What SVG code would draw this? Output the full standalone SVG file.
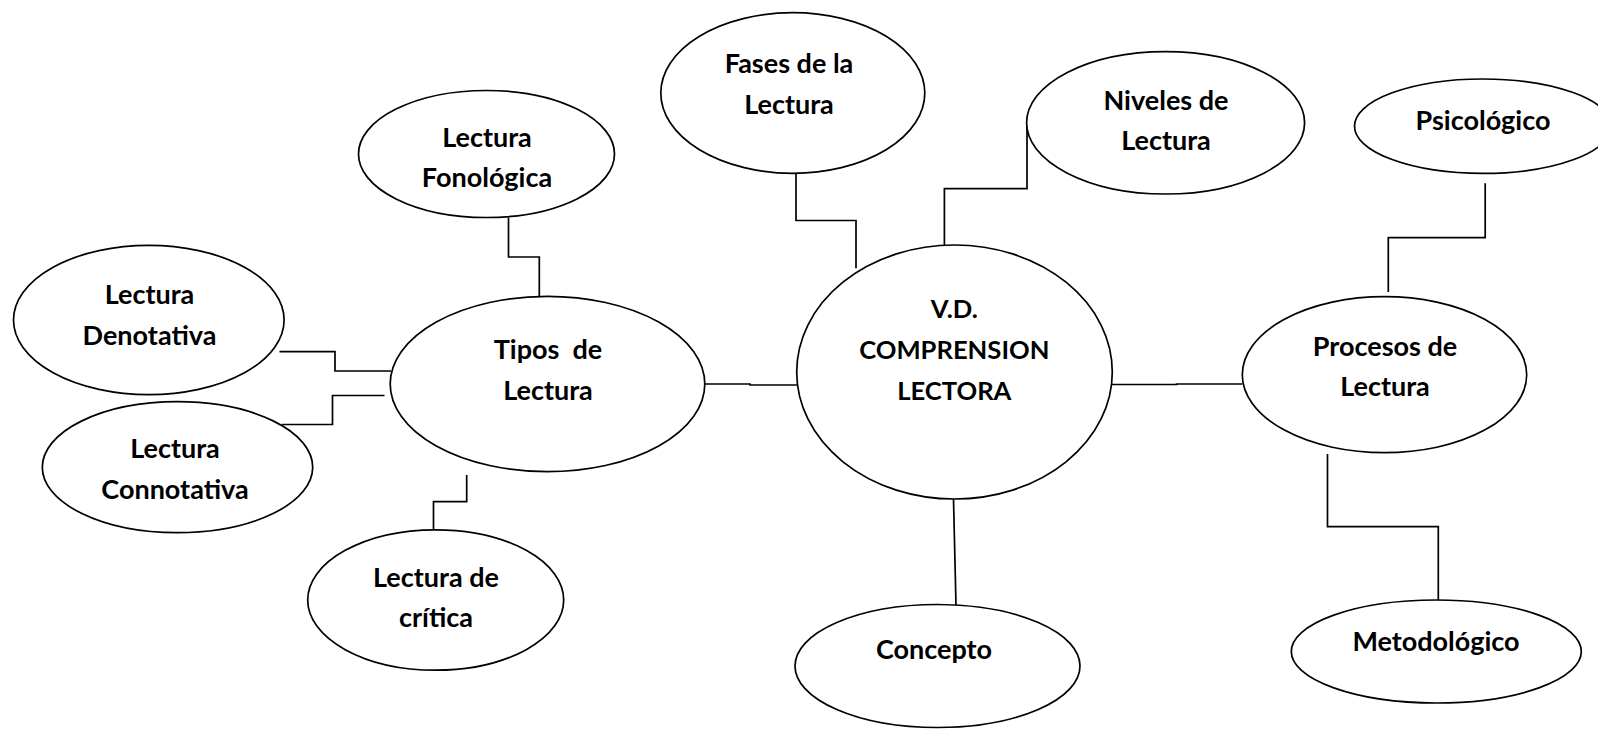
<svg xmlns="http://www.w3.org/2000/svg" width="1598" height="729" viewBox="0 0 1598 729">
<style>
.n{fill:#fff;stroke:#000;stroke-width:1.7}
.c{fill:none;stroke:#000;stroke-width:1.7}
text{font-family:Lato,"Open Sans",sans-serif;font-weight:bold;font-size:27px;fill:#000;text-anchor:middle}
.caps{font-size:25.6px}
</style>
<rect width="1598" height="729" fill="#fff"/>
<g id="connectors">
<path class="c" d="M508.5,217.5V257H539.3V296.5"/>
<path class="c" d="M279.5,351.7H335V371H391"/>
<path class="c" d="M384.5,395.5H332.5V424.5H282"/>
<path class="c" d="M466.7,475V501.7H433.5V530"/>
<path class="c" d="M705,384H750V385H797"/>
<path class="c" d="M796,173V220.5H856V268.3"/>
<path class="c" d="M1027,123.5V188.7H944.4V245"/>
<path class="c" d="M1112,384.5H1176.6V384H1242.5"/>
<path class="c" d="M953.5,499L956,605"/>
<path class="c" d="M1485.2,183.3V237.7H1388.3V292"/>
<path class="c" d="M1327.5,454V526.7H1438.3V600"/>
</g>
<g id="fonologica"><ellipse class="n" cx="486.5" cy="154" rx="128" ry="63.5"/><text x="487" y="146.7">Lectura</text><text x="487" y="186.5">Fonológica</text></g>
<g id="fases"><ellipse class="n" cx="792.8" cy="93" rx="132" ry="80.3"/><text x="789" y="73">Fases de la</text><text x="789" y="114">Lectura</text></g>
<g id="niveles"><ellipse class="n" cx="1165.6" cy="122.8" rx="139" ry="71.2"/><text x="1166" y="109.5">Niveles de</text><text x="1166" y="149.5">Lectura</text></g>
<g id="psicologico"><ellipse class="n" cx="1483" cy="126.2" rx="128.5" ry="47.2"/><text x="1483" y="130">Psicológico</text></g>
<g id="denotativa"><ellipse class="n" cx="148.8" cy="320" rx="135.3" ry="74.6"/><text x="149.5" y="303.5">Lectura</text><text x="149.5" y="344.5">Denotativa</text></g>
<g id="connotativa"><ellipse class="n" cx="177.5" cy="467.2" rx="135.2" ry="65.5"/><text x="175" y="457.5">Lectura</text><text x="175" y="498.5">Connotativa</text></g>
<g id="tipos"><ellipse class="n" cx="547.5" cy="384" rx="157.3" ry="87.7"/><text x="548" y="359" xml:space="preserve">Tipos  de</text><text x="548" y="400">Lectura</text></g>
<g id="critica"><ellipse class="n" cx="435.7" cy="600" rx="128" ry="70.2"/><text x="436" y="586.7">Lectura de</text><text x="436" y="627">crítica</text></g>
<g id="comprension"><ellipse class="n" cx="954.5" cy="372" rx="157.8" ry="127"/><text class="caps" x="954.3" y="318">V.D.</text><text class="caps" x="954.3" y="359">COMPRENSION</text><text class="caps" x="954.3" y="399.5">LECTORA</text></g>
<g id="procesos"><ellipse class="n" cx="1384.5" cy="374.7" rx="142.2" ry="78"/><text x="1385" y="356">Procesos de</text><text x="1385" y="396">Lectura</text></g>
<g id="concepto"><ellipse class="n" cx="937.5" cy="666" rx="142.5" ry="61.5"/><text x="934" y="658.5">Concepto</text></g>
<g id="metodologico"><ellipse class="n" cx="1436.3" cy="651.5" rx="145" ry="51.5"/><text x="1436" y="651">Metodológico</text></g>
</svg>
